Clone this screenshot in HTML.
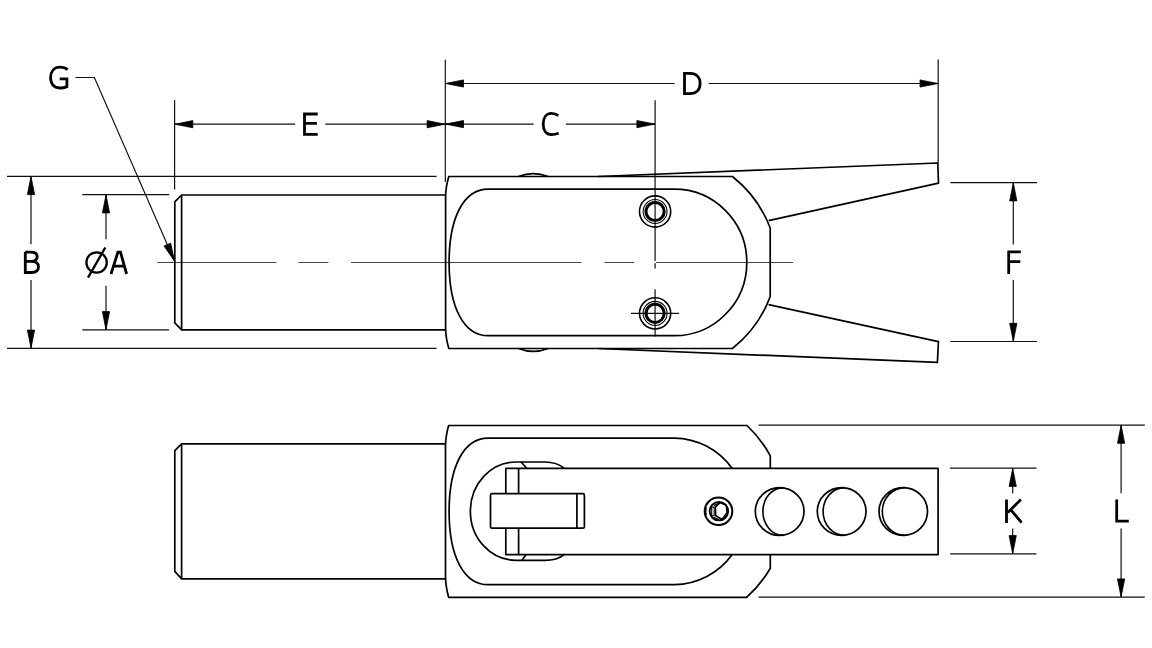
<!DOCTYPE html>
<html><head><meta charset="utf-8">
<style>
html,body{margin:0;padding:0;background:#fff;width:1152px;height:648px;overflow:hidden}
svg{display:block}
text{font-family:"Liberation Sans",sans-serif;font-size:31px;fill:#000}
</style></head><body>
<svg width="1152" height="648" viewBox="0 0 1152 648">
<defs>
<marker id="ar" viewBox="-1 -1 20.5 10" refX="18.5" refY="4" markerWidth="20.5" markerHeight="10" markerUnits="userSpaceOnUse" orient="auto-start-reverse">
<path d="M0.3 0.4L18.3 4L0.3 7.6Z" fill="#000" stroke="#000" stroke-width="0.8" stroke-linejoin="round"/>
</marker>
</defs>
<g fill="none" stroke="#111" stroke-width="1.2">
<!-- ===== TOP VIEW dims ===== -->
<!-- B ext -->
<path d="M7 176.4H436.5M7 348.3H436.5"/>
<!-- A ext -->
<path d="M82.3 194.7H169.2M82.3 329.8H169.2"/>
<!-- B arrows -->
<path d="M31 244.3V176.4" marker-end="url(#ar)"/>
<path d="M31 280V348.3" marker-end="url(#ar)"/>
<!-- A arrows -->
<path d="M106 239.3V194.7" marker-end="url(#ar)"/>
<path d="M106 285.7V329.8" marker-end="url(#ar)"/>
<!-- ext lines -->
<path d="M174.6 100V189.5M445.3 59.7V182M938.2 59.4V163M655.1 100.3V260.9M655.1 263.3V268.6"/>
<!-- E -->
<path d="M295.2 124.2H174.6" marker-end="url(#ar)"/>
<path d="M325.3 124.2H445.3" marker-end="url(#ar)"/>
<!-- C -->
<path d="M533.6 124.1H445.3" marker-end="url(#ar)"/>
<path d="M565.9 124.1H655.1" marker-end="url(#ar)"/>
<!-- D -->
<path d="M674.6 83.5H445.3" marker-end="url(#ar)"/>
<path d="M708.6 83.5H938.2" marker-end="url(#ar)"/>
<!-- F -->
<path d="M950.4 182.7H1037.1M950.4 341.5H1037.1"/>
<path d="M1013.3 244.4V182.7" marker-end="url(#ar)"/>
<path d="M1013.3 280.1V341.5" marker-end="url(#ar)"/>
<!-- G leader -->
<path d="M75.5 77.5H94.4L174.6 261.3" marker-end="url(#ar)"/>
<!-- center line -->
<path d="M157.3 262.45H276.3M298.4 262.45H328.4M351 262.45H581.5M604.6 262.45H634.3M656.2 262.45H793.1" stroke="#444" stroke-width="1.1"/>
<!-- hole cross bottom -->
<path d="M631 313.35H679.2M655.1 289.2V336.4"/>

<!-- ===== BOTTOM VIEW dims ===== -->
<path d="M758.5 425.1H1144.8M758.5 597.1H1144.8"/>
<path d="M950.1 468.2H1036.4M950.1 553.8H1036.4"/>
<path d="M1121.1 493.3V425.1" marker-end="url(#ar)"/>
<path d="M1121.1 528.5V597.1" marker-end="url(#ar)"/>
<path d="M1012.7 493.3V468.2" marker-end="url(#ar)"/>
<path d="M1012.7 528.5V553.8" marker-end="url(#ar)"/>
</g>

<g fill="none" stroke="#000" stroke-width="1.7" stroke-linejoin="round">
<!-- ===== TOP VIEW object ===== -->
<!-- shaft -->
<path d="M445.7 195H181.6L174.8 201.8V322.9L181.6 329.8H445.7M181.6 195V329.8"/>
<!-- body -->
<path d="M448.8 176.5H732.4A120 120 0 0 1 770.2 228V296.6A120 120 0 0 1 732.4 348.5H448.8Q445.6 337.5 445.6 328V196.5Q445.6 187.5 448.8 176.5Z"/>
<!-- jaws -->
<path d="M598 176.5L937.8 163L938.5 183.2L768.6 220.6"/>
<path d="M598 348.5L937.4 362.4L938.4 341.7L768.6 304.6"/>
<!-- bumps -->
<path d="M518.5 176.5Q533.3 170.6 548 176.5M518.5 348.5Q533.3 354.4 548 348.5"/>
<!-- pocket -->
<path d="M488.2 189.1H674.3A72.5 73.3 0 0 1 674.3 335.7H488.2C464.0 335.7 449.1 307.8 449.1 262.4C449.1 217.0 464.0 189.1 488.2 189.1Z"/>
<!-- holes -->
<g>
<circle cx="655.1" cy="211.5" r="15.6" stroke-width="1.6"/>
<circle cx="655.1" cy="211.5" r="11.95" stroke-width="1.1"/>
<circle cx="655.1" cy="211.5" r="9.1" stroke-width="3"/>
<circle cx="655.1" cy="313.35" r="15.6" stroke-width="1.6"/>
<circle cx="655.1" cy="313.35" r="11.95" stroke-width="1.1"/>
<circle cx="655.1" cy="313.35" r="9.1" stroke-width="3"/>
</g>

<!-- ===== BOTTOM VIEW object ===== -->
<path d="M445.7 443.9H181.6L174.8 450.7V571.4L181.6 578.8H445.7M181.6 443.9V578.8"/>
<!-- body outline -->
<path d="M770.3 468.4V455.8A120 120 0 0 0 747 425.5H448.6Q445.5 437 445.5 446V576.5Q445.5 585.5 448.6 597.3H746.6A120 120 0 0 0 770.3 568.2V554.6"/>
<!-- pocket ring -->
<path d="M732.2 468.4A72.5 73.3 0 0 0 674.4 438.1H488.2C464.0 438.1 449.1 466.0 449.1 511.4C449.1 556.8 464.0 584.7 488.2 584.7H674.4A72.5 73.3 0 0 0 732.2 554.6"/>
<!-- inner slot -->
<path d="M564.3 468.4C558 463 552 462 545 462H516A45.5 49 0 0 0 516 560.3H545C552 560.3 558 559.5 564.3 554.6"/>
<path d="M521.2 462L526.6 468.2M522.2 560L526.2 554.5"/>
<!-- lever -->
<path d="M505.8 493.7V468.4H938.1V554.6H505.8V528.2M518.6 468.4V493.7M518.6 528.2V554.6"/>
<!-- clamp block -->
<rect x="490.5" y="493.7" width="93.9" height="34.5" rx="1.5"/>
<path d="M576.9 493.7V528.2"/>
<!-- screw -->
<circle cx="718.5" cy="511.3" r="13.8" stroke-width="2"/>
<path d="M705.4 507.5A13.8 13.8 0 0 0 705.4 515.1" stroke-width="1.2" transform="translate(1 0)"/>
<circle cx="718.9" cy="511.2" r="9.2" stroke-width="1.9"/>
<path d="M715.5 506.9 L720.2 502.8 L726.2 505.0 L727.1 512.4 L722.0 519.5 L715.7 515.7Z" stroke-width="1.5"/>
<path d="M711.7 507.1H714.2V515.8H711.7Z" stroke-width="1.1"/>
<path d="M713.8 505.6L719 503.1M713.8 517.2L719 519.6" stroke-width="1.2"/>
<!-- pins -->
<ellipse cx="779.65" cy="511.5" rx="24.35" ry="23.90" stroke-width="1.7"/>
<path d="M783.45 487.60A20.55 23.90 0 0 0 783.45 535.40" stroke-width="1.6"/>
<ellipse cx="841.65" cy="511.5" rx="24.35" ry="23.90" stroke-width="1.7"/>
<path d="M844.55 487.60A21.45 23.90 0 0 0 844.55 535.40" stroke-width="1.6"/>
<ellipse cx="903.25" cy="511.5" rx="24.25" ry="23.90" stroke-width="1.7"/>
<path d="M904.90 487.60A22.60 23.90 0 0 0 904.90 535.40" stroke-width="1.6"/>
</g>

<!-- labels -->
<g fill="none" stroke="#000" stroke-width="2.8" stroke-linejoin="miter">
<!-- G -->
<path d="M67.6 69.6C65.6 67.9 63 67.1 60 67.1C54 67.1 50.6 71.6 50.6 77.6C50.6 84 53.8 88 59.8 88C62.6 88 64.9 87.5 66.9 86.6V78.9H59.7"/>
<!-- E -->
<path d="M317.7 114H304.5V134.4H317.7M304.5 123.3H316.9"/>
<!-- C -->
<path d="M558.3 115.6C556.4 114.1 554 113.4 551.4 113.4C546 113.4 543.2 118 543.2 124.1C543.2 130.4 546 134.7 551.5 134.7C554 134.7 556.4 134.1 558.6 133.3"/>
<!-- D -->
<path d="M684.5 73.4H690C696.5 73.4 700.1 77.3 700.1 83.4C700.1 89.6 696.4 93.6 689.8 93.6H684.5Z"/>
<!-- B -->
<path d="M25.3 252.1H31C35.2 252.1 37.2 253.8 37.2 256.8C37.2 260 35 261.3 31.3 261.3H25.3M31.3 261.3C36 261.3 38.5 263.3 38.5 266.8C38.5 270.4 36 272.5 31.5 272.5H25.3V252.1"/>
<!-- O slash -->
<circle cx="96.6" cy="262.5" r="10.2" stroke-width="2.3"/>
<path d="M88 277.6L105.3 247.5" stroke-width="2.3"/>
<!-- A -->
<path d="M111 274L117.9 252.2H120.5L126.6 274M112.9 266.2H124.8"/>
<!-- F -->
<path d="M1020.8 251.8H1008.7V273.9M1008.7 261.6H1020.3"/>
<!-- K -->
<path d="M1006.5 499.4V522.9M1020.9 499.6L1007.8 512.4M1010.6 509.6L1021.6 522.7"/>
<!-- L -->
<path d="M1116.7 499.4V521.2H1128.8"/>
</g>
</svg>
</body></html>
